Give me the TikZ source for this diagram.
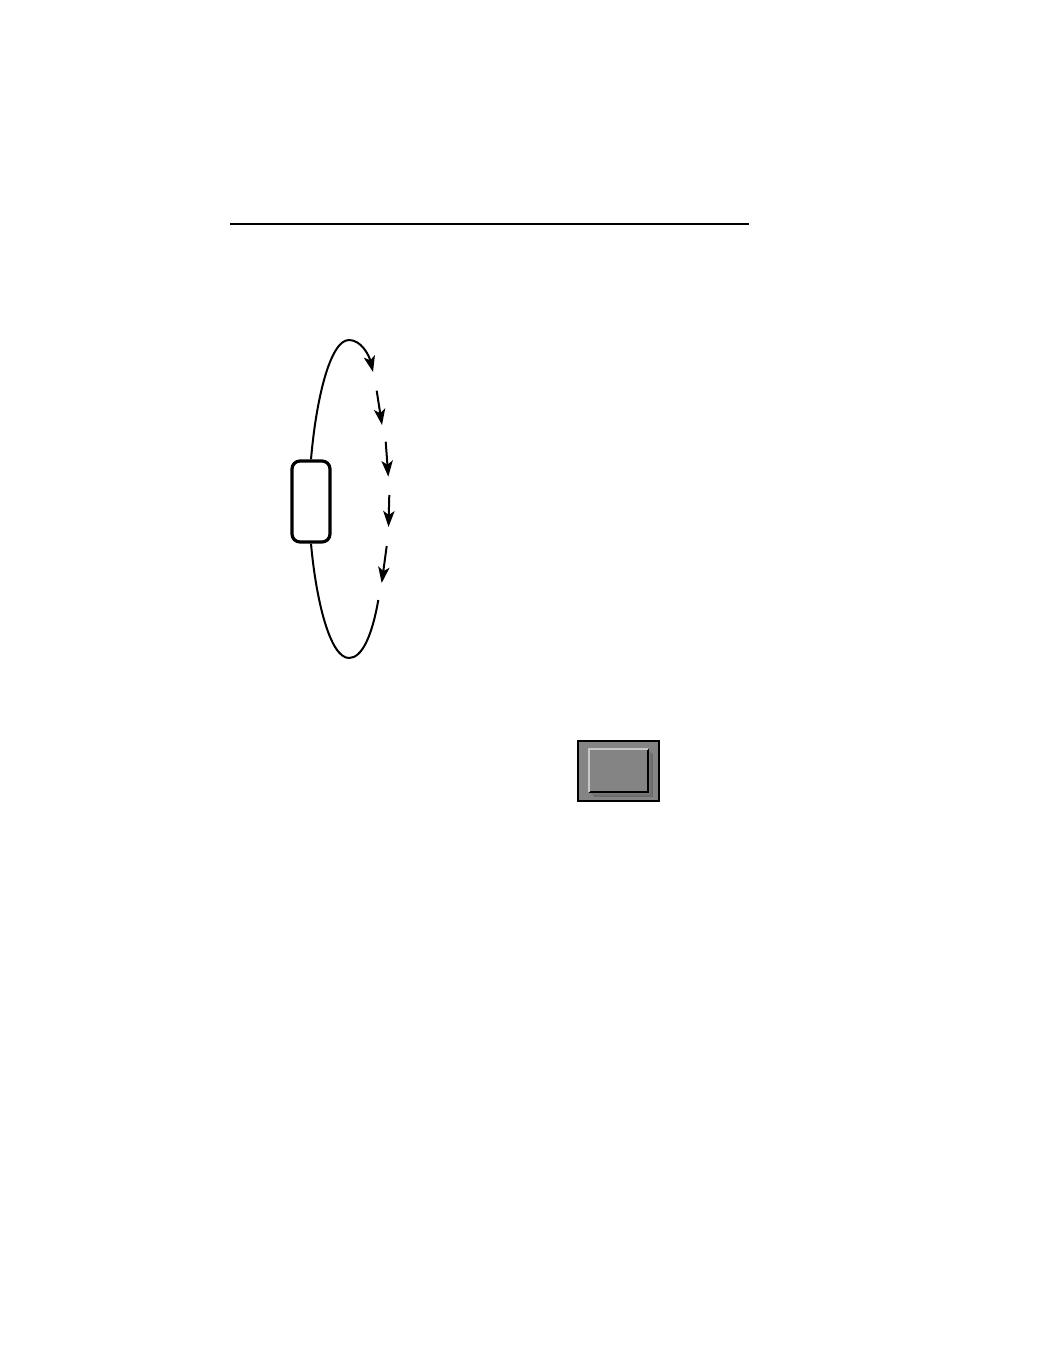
\documentclass[tikz,border=0pt]{standalone}
\usepackage{amsmath}
\usepackage{amssymb}
\usetikzlibrary{arrows.meta}

\definecolor{btngray}{RGB}{132,132,132}
\definecolor{btnlight}{RGB}{200,200,200}
\definecolor{btnshade}{RGB}{100,100,100}

\tikzset{
  loopline/.style={line width=1.5pt},
  looparrow/.style={loopline,-{Stealth[length=12pt,width=8.5pt,inset=3pt]}},
  statebox/.style={draw,line width=2.4pt,rounded corners=6pt,minimum width=28.5pt,minimum height=60.75pt,inner sep=0pt}
}

\begin{document}
\begin{tikzpicture}[x=0.75pt,y=0.75pt,yscale=-1,xscale=1]
\useasboundingbox (0,0) rectangle (1040,1346);

%Straight Lines [rule]
\draw [line width=1pt]   (230,224) -- (749,224) ;

%Shape: Rounded Rectangle [state]
\node [statebox] (state) at (311,501.5) {};

% points along the loop
\coordinate (apexT) at (349,340);
\coordinate (tipA) at (373,372);
\coordinate (dashB1) at (376.7,390.7);
\coordinate (dashB2) at (382,425);
\coordinate (dashC1) at (385.7,441.7);
\coordinate (dashC2) at (388.3,476.7);
\coordinate (dashD1) at (389.3,495);
\coordinate (dashD2) at (388.5,527);
\coordinate (dashE1) at (386.7,546);
\coordinate (dashE2) at (381.7,583);
\coordinate (tailF) at (378.3,600);
\coordinate (apexB) at (349,658);

%Curve Lines [top of loop]
\draw [looparrow]   (state.north) .. controls (316,400) and (330,340) .. (apexT) .. controls (361,340) and (369,355) .. (tipA) ;
%Straight Lines [dashes]
\draw [looparrow]   (dashB1) -- (dashB2) ;
\draw [looparrow]   (dashC1) -- (dashC2) ;
\draw [looparrow]   (dashD1) -- (dashD2) ;
\draw [looparrow]   (dashE1) -- (dashE2) ;
%Curve Lines [bottom of loop]
\draw [loopline]   (tailF) .. controls (372,636) and (362,658) .. (apexB) .. controls (330,658) and (316,600) .. (state.south) ;

%Shape: Button [outer]
\draw [fill=btngray,line width=1.5pt]   (578,741) rectangle (659,801) ;
%Shape: Button [shadow]
\foreach \s/\c in {5/85,4/70,3/55,2/35} {
  \fill [btnshade!\c!btngray]   (589+\s,749+\s) rectangle (648+\s,792+\s) ;
}
%Shape: Button [face]
\fill [btngray]   (589,749) rectangle (648,792) ;
\draw [black,line width=1.5pt]   (589,792) -- (648,792) -- (648,749) ;
\draw [btnlight,line width=1pt]   (589,792) -- (589,749) -- (648,749) ;

\end{tikzpicture}
\end{document}
